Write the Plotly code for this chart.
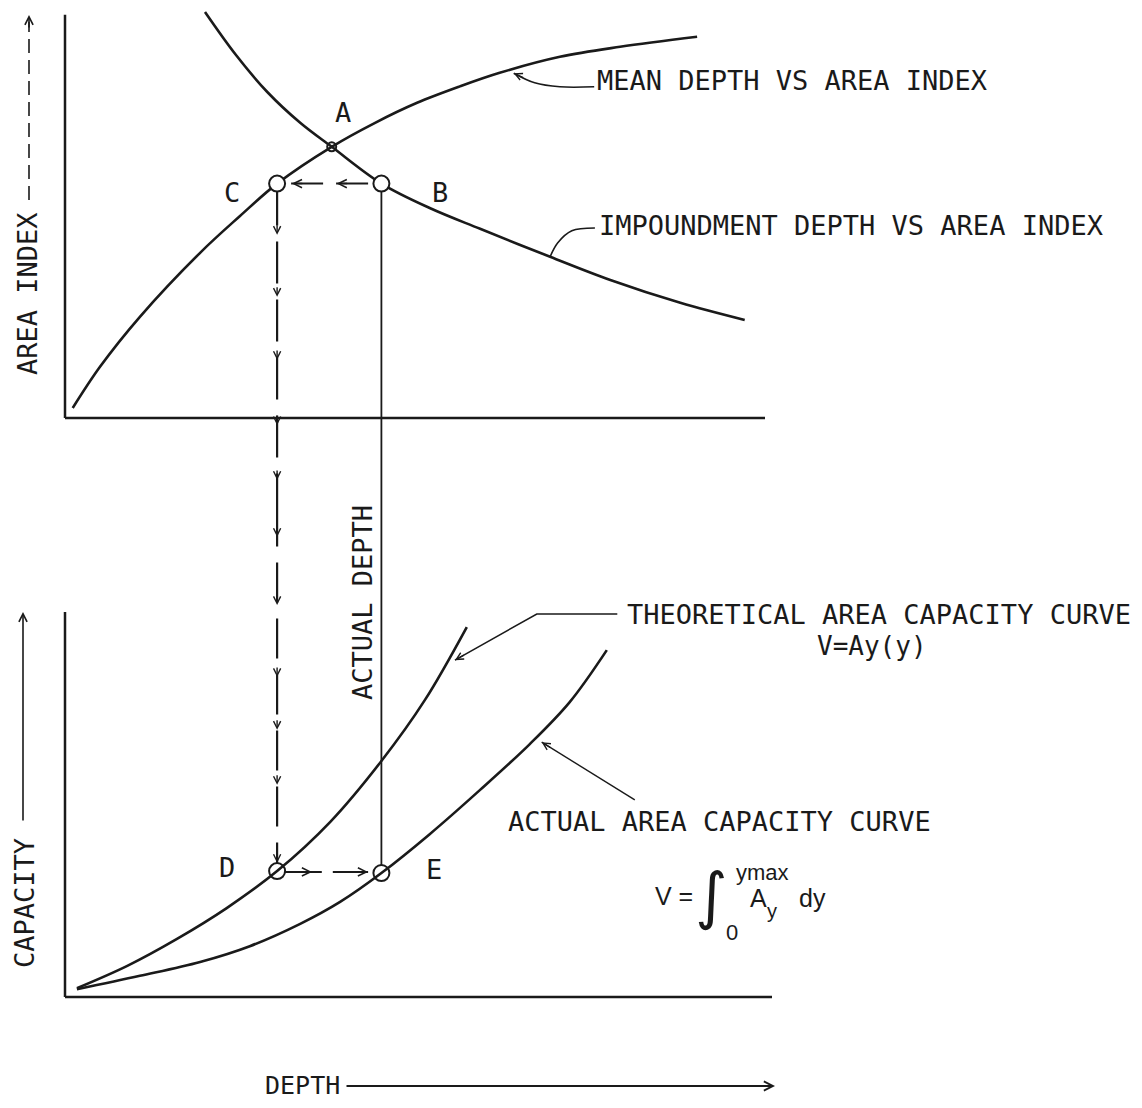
import plotly.graph_objects as go

PAGE_W, PAGE_H = 1142, 1108
BODY = 8                      # default page margin around the figure
W, H = PAGE_W - 2 * BODY, PAGE_H - 2 * BODY
INK = "#1a1a1a"
MONO = "DejaVu Sans Mono"
SANS = "Liberation Sans"

# ---------------- data (depth 0-10, area index 0-10, capacity 0-10) ----------------
mean_depth = [0.11, 0.50, 1.07, 1.93, 2.50, 3.03, 3.81, 4.43, 5.03, 5.64, 6.21, 7.07, 7.93, 9.03]
mean_area  = [0.25, 1.28, 2.53, 4.13, 5.05, 5.86, 6.78, 7.38, 7.88, 8.29, 8.63, 9.03, 9.28, 9.53]

impound_depth = [2.00, 2.44, 2.89, 3.36, 3.81, 4.52, 5.21, 5.93, 6.93, 7.79, 8.79, 9.71]
impound_area  = [10.15, 9.08, 8.15, 7.38, 6.78, 5.86, 5.25, 4.73, 4.03, 3.45, 2.88, 2.45]

theo_depth = [0.17, 0.89, 1.60, 2.31, 3.03, 3.79, 4.52, 5.14, 5.74]
theo_cap   = [0.23, 0.81, 1.51, 2.31, 3.27, 4.55, 6.13, 7.71, 9.61]

act_depth = [0.17, 1.07, 1.93, 2.64, 3.36, 3.93, 4.52, 5.21, 5.93, 6.64, 7.21, 7.74]
act_cap   = [0.20, 0.55, 0.91, 1.32, 1.90, 2.47, 3.22, 4.23, 5.38, 6.57, 7.66, 9.01]

point_names = ["A", "B", "C", "D", "E"]
point_depth = [3.81, 4.52, 3.03, 3.03, 4.52]
point_value = [6.78, 5.86, 5.86, 3.27, 3.22]

# arrow-tick positions along the C -> D projection (area index in top panel, capacity in bottom)
down_ticks_area = [4.58, 3.03, 1.45, -0.18, -1.55]
down_ticks_cap = [11.95, 10.18, 8.31, 6.94, 5.51, 3.48]

# leader lines
mean_leader_d = [7.56, 7.07, 6.71, 6.41]
mean_leader_a = [8.28, 8.28, 8.38, 8.62]
imp_leader_d = [7.57, 7.24, 7.04, 6.93]
imp_leader_a = [4.75, 4.68, 4.38, 4.03]
theo_leader_d = [7.89, 6.74, 5.57]
theo_leader_c = [9.95, 9.95, 8.75]
act_leader_d = [8.14, 6.81]
act_leader_c = [5.12, 6.62]


# ---------------- page-pixel helpers ----------------
def px(x):
    return (x - BODY) / W


def py(y):
    return 1 - (y - BODY) / H


X_DOM = [px(45), px(790)]
X_RANGE = [(45 - 65) / 70, (790 - 65) / 70]
TOP_DOM = [py(510), 1]
TOP_RANGE = [(418 - 510) / 40, (418 - BODY) / 40]
BOT_DOM = [0, py(510)]
BOT_RANGE = [(997 - (PAGE_H - BODY)) / 38.5, (997 - 510) / 38.5]

fig = go.Figure()


def add_line(x, y, panel="top", width=2.5, dash="solid", shape="linear"):
    xa, ya = ("x", "y") if panel == "top" else ("x2", "y2")
    fig.add_trace(go.Scatter(x=x, y=y, xaxis=xa, yaxis=ya, mode="lines",
                             line=dict(color=INK, width=width, dash=dash, shape=shape, smoothing=1.0),
                             hoverinfo="skip"))


def add_circles(names, panel, size):
    xa, ya = ("x", "y") if panel == "top" else ("x2", "y2")
    idx = [point_names.index(n) for n in names]
    fig.add_trace(go.Scatter(x=[point_depth[i] for i in idx], y=[point_value[i] for i in idx],
                             xaxis=xa, yaxis=ya, mode="markers",
                             marker=dict(size=size, color="white", line=dict(color=INK, width=2)),
                             hoverinfo="skip"))


B = point_names.index("B"); C = point_names.index("C")
D = point_names.index("D"); E = point_names.index("E")

# connectors: actual depth (solid) from B to E
add_line([point_depth[B]] * 2, [point_value[B], TOP_RANGE[0] - 3], "top", 1.8)
add_line([point_depth[E]] * 2, [BOT_RANGE[1] + 3, point_value[E]], "bot", 1.8)
# dashed projection from C down to D
add_line([point_depth[C]] * 2, [point_value[C], TOP_RANGE[0] - 3], "top", 2.2, "42px,16px")
add_line([point_depth[D]] * 2, [BOT_RANGE[1] + 3, point_value[D]], "bot", 2.2, "40px,16px")
# B -> C and D -> E dashed arrows
add_line([4.33, 3.23], [point_value[B]] * 2, "top", 2.0, "32px,13px")
add_line([3.14, 4.33], [3.25, 3.25], "bot", 2.0, "37px,11px")

# circles under curves
add_circles(["A"], "top", 9)
add_circles(["D", "E"], "bot", 16)

# curves
add_line(mean_depth, mean_area, "top", 2.6, shape="spline")
add_line(impound_depth, impound_area, "top", 2.6, shape="spline")
add_line(theo_depth, theo_cap, "bot", 2.6, shape="spline")
add_line(act_depth, act_cap, "bot", 2.6, shape="spline")

# leaders
add_line(mean_leader_d, mean_leader_a, "top", 1.6, shape="spline")
add_line(imp_leader_d, imp_leader_a, "top", 1.6, shape="spline")
add_line(theo_leader_d, theo_leader_c, "bot", 1.6)
add_line(act_leader_d, act_leader_c, "bot", 1.4)

# circles over curves
add_circles(["B", "C"], "top", 16)

# axes frames
shapes = [
    dict(type="line", xref="x", yref="y", x0=0, y0=0, x1=10.0, y1=0, line=dict(color=INK, width=2.5)),
    dict(type="line", xref="x", yref="y", x0=0, y0=0, x1=0, y1=10.08, line=dict(color=INK, width=2.5)),
    dict(type="line", xref="x2", yref="y2", x0=0, y0=0, x1=10.1, y1=0, line=dict(color=INK, width=2.5)),
    dict(type="line", xref="x2", yref="y2", x0=0, y0=0, x1=0, y1=10.0, line=dict(color=INK, width=2.5)),
    dict(type="line", xref="paper", yref="paper", x0=px(29), y0=py(200), x1=px(29), y1=py(22),
         line=dict(color=INK, width=1.6, dash="14px,7px")),
]

ann = []


def arrow(x, y, ax, ay, xref="x", yref="y", size=1.1, width=1.5):
    ann.append(dict(x=x, y=y, xref=xref, yref=yref, ax=ax, ay=ay, axref="pixel", ayref="pixel",
                    text="", showarrow=True, arrowhead=5, arrowsize=size, arrowwidth=width,
                    arrowcolor=INK, standoff=0, startstandoff=0))


for v in down_ticks_area:
    arrow(point_depth[C], v, 0, -11, "x", "y", 1.0, 1.4)
for v in down_ticks_cap:
    arrow(point_depth[D], v, 0, -11, "x2", "y2", 1.0, 1.4)
arrow(3.24, point_value[C], 12, 0, "x", "y")
arrow(3.88, point_value[C], 12, 0, "x", "y")
arrow(3.53, 3.25, -12, 0, "x2", "y2")
arrow(4.33, 3.25, -12, 0, "x2", "y2")
arrow(mean_leader_d[-1], mean_leader_a[-1], 11, 5, "x", "y", 1.0, 1.4)
arrow(theo_leader_d[-1], theo_leader_c[-1], 10.5, -5.9, "x2", "y2", 1.0, 1.4)
arrow(act_leader_d[-1], act_leader_c[-1], 10, 6.3, "x2", "y2", 1.0, 1.4)

# big axis arrows
arrow(px(29), py(15), 0, 14, "paper", "paper", 1.0, 1.6)
arrow(px(23), py(612), 0, 210, "paper", "paper", 1.0, 1.6)
arrow(px(775), py(1086), -430, 0, "paper", "paper", 1.0, 1.8)


def label(text, x, y, size=27, xanchor="left", angle=0, font=MONO):
    ann.append(dict(x=px(x), y=py(y), xref="paper", yref="paper", text=text, showarrow=False,
                    xanchor=xanchor, yanchor="middle", textangle=angle,
                    font=dict(family=font, size=size, color=INK)))


label("MEAN DEPTH VS AREA INDEX", 595, 81)
label("IMPOUNDMENT DEPTH VS AREA INDEX", 597, 226)
label("THEORETICAL AREA CAPACITY CURVE", 625, 614)
label("V=Ay(y)", 872, 646, size=26, xanchor="center")
label("ACTUAL AREA CAPACITY CURVE", 506, 821)
label("A", 343, 112, xanchor="center")
label("B", 440, 192, xanchor="center")
label("C", 232, 192, xanchor="center")
label("D", 227, 867, xanchor="center")
label("E", 434, 869, xanchor="center")
label("AREA INDEX", 28, 294, xanchor="center", angle=-90)
label("CAPACITY", 24, 903, xanchor="center", angle=-90)
label("ACTUAL DEPTH", 362, 603, xanchor="center", angle=-90)
label("DEPTH", 263, 1085, size=25)

# formula V = ∫0^ymax Ay dy
label("V =", 653, 896, size=25, font=SANS)
label("∫", 711, 895, size=62, xanchor="center", font="DejaVu Sans")
label("0", 732, 932, size=22, xanchor="center", font=SANS)
label("ymax", 734, 872, size=22, font=SANS)
label("A", 758, 898, size=25, xanchor="center", font=SANS)
label("y", 772, 911, size=20, xanchor="center", font=SANS)
label("dy", 812, 898, size=25, xanchor="center", font=SANS)

fig.update_layout(
    width=W, height=H, margin=dict(l=0, r=0, t=0, b=0),
    paper_bgcolor="white", plot_bgcolor="white", showlegend=False,
    xaxis=dict(domain=X_DOM, range=X_RANGE, visible=False, anchor="y"),
    yaxis=dict(domain=TOP_DOM, range=TOP_RANGE, visible=False, anchor="x"),
    xaxis2=dict(domain=X_DOM, range=X_RANGE, visible=False, anchor="y2"),
    yaxis2=dict(domain=BOT_DOM, range=BOT_RANGE, visible=False, anchor="x2"),
    shapes=shapes, annotations=ann,
)

fig.write_html("out.html")
